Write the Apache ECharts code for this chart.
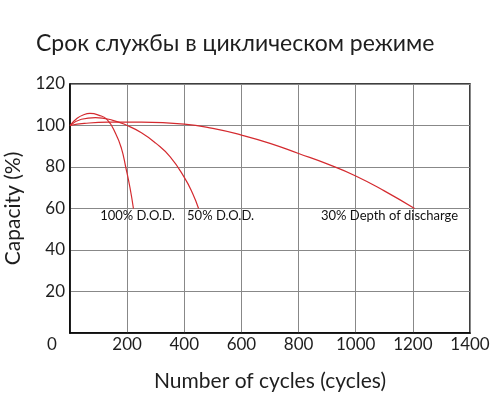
<!DOCTYPE html>
<html>
<head>
<meta charset="utf-8">
<title>Срок службы в циклическом режиме</title>
<script src="https://cdn.jsdelivr.net/npm/echarts@6/dist/echarts.min.js"></script>
<style>
  html, body { margin: 0; padding: 0; background: #fff; }
  #chart { width: 501px; height: 402px; }
</style>
</head>
<body>
<div id="chart"></div>
<script>
// данные: [циклы, ёмкость %]
const dod100 = [
  [0, 100], [25, 103.5], [50, 105.3], [70, 105.8], [100, 105], [130, 102.8],
  [160, 96], [180, 89], [195, 80], [210, 70], [222, 60]
];
const dod50 = [
  [0, 100], [40, 103], [89, 103.8], [150, 102.5], [200, 100], [250, 96.5],
  [300, 91.5], [350, 85], [400, 75], [430, 67], [450, 60]
];
const dod30 = [
  [0, 100], [50, 101], [133, 101.6], [250, 101.6], [400, 100.7], [500, 98.6],
  [600, 95.4], [700, 91.4], [800, 86.5], [900, 81.5], [1000, 75.7],
  [1100, 68.5], [1206, 60]
];
const seriesNames = ["100% D.O.D.", "50% D.O.D.", "30% Depth of discharge"];
// смещение подписи от последней точки кривой
const labelShift = [4, 22, -25];

const fontFamily = "Lato, 'Noto Sans', sans-serif";
const red = "#d42a2f";

function makeSeries(name, data, shift) {
  return {
    name: name,
    type: "line",
    smooth: 0.5,
    symbol: "circle",
    symbolSize: 0,
    lineStyle: { color: red, width: 1.2 },
    itemStyle: { color: red },
    data: data.map(function (p, i) {
      if (i !== data.length - 1) return p;
      return {
        value: p,
        label: {
          show: true,
          position: "bottom",
          distance: 1,
          offset: [shift, 0],
          formatter: name,
          color: "#111",
          fontSize: 13,
          fontFamily: fontFamily,
        },
      };
    }),
  };
}

let myChart = echarts.init(document.getElementById("chart"));
let option = {
  animation: false,
  title: {
    text: "Срок службы в циклическом режиме",
    left: 31,
    top: 27,
    textStyle: {
      color: "#1e1e1e",
      fontSize: 23,
      fontWeight: "normal",
      fontFamily: fontFamily,
    },
  },
  grid: {
    left: 70,
    right: 31,
    top: 84,
    bottom: 69,
    outerBoundsMode: "none",
    containLabel: false,
    show: true,
    borderColor: "#000",
    borderWidth: 1.5,
  },
  xAxis: {
    type: "value",
    min: 0,
    max: 1400,
    interval: 200,
    name: "Number of cycles (cycles)",
    nameLocation: "middle",
    nameGap: 38,
    nameTextStyle: { color: "#1e1e1e", fontSize: 21, fontFamily: fontFamily },
    axisLine: { lineStyle: { color: "#000", width: 1.5 } },
    axisTick: { show: false },
    axisLabel: {
      color: "#1e1e1e",
      fontSize: 17,
      fontFamily: fontFamily,
      margin: 3,
      formatter: function (v) {
        return v === 0 ? "{z|0}" : String(v);
      },
      rich: {
        z: { fontSize: 17, fontFamily: fontFamily, color: "#1e1e1e", padding: [0, 36, 0, 0] },
      },
    },
    splitLine: { lineStyle: { color: "#888", width: 1 } },
  },
  yAxis: {
    type: "value",
    min: 0,
    max: 120,
    interval: 20,
    name: "Capacity (%)",
    nameLocation: "middle",
    nameGap: 46,
    nameTextStyle: { color: "#1e1e1e", fontSize: 21, fontFamily: fontFamily },
    axisLine: { show: true, lineStyle: { color: "#000", width: 1.5 } },
    axisTick: { show: false },
    axisLabel: {
      color: "#1e1e1e",
      fontSize: 17,
      fontFamily: fontFamily,
      margin: 5,
      showMinLabel: false,
    },
    splitLine: { lineStyle: { color: "#888", width: 1 } },
  },
  series: [
    makeSeries(seriesNames[0], dod100, labelShift[0]),
    makeSeries(seriesNames[1], dod50, labelShift[1]),
    makeSeries(seriesNames[2], dod30, labelShift[2]),
  ],
};
myChart.setOption(option);
</script>
</body>
</html>
